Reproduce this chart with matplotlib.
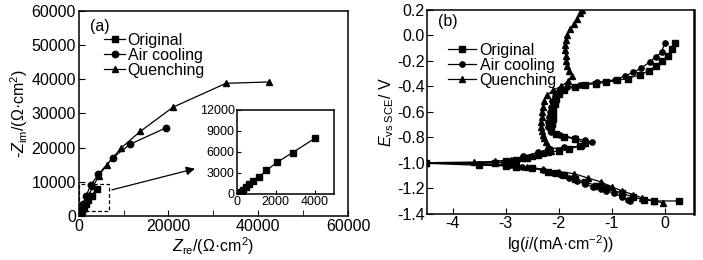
import matplotlib
matplotlib.use("Agg")
import matplotlib.pyplot as plt
from matplotlib.patches import Rectangle

plt.rcParams['font.family'] = ['Liberation Sans', 'DejaVu Sans']
plt.rcParams['mathtext.fontset'] = 'custom'
plt.rcParams['mathtext.rm'] = 'Liberation Sans'
plt.rcParams['mathtext.it'] = 'Liberation Sans:italic'
plt.rcParams['font.size'] = 11
plt.rcParams['axes.linewidth'] = 1.1

# (a) Nyquist data
orig_zre = [0, 190, 300, 460, 630, 810, 1130, 1520, 2060, 2870, 4035]
orig_zim = [0, 280, 610, 1000, 1420, 1800, 2370, 3360, 4500, 5920, 7970]
air_zre = [0, 400, 1000, 1600, 2700, 4400, 7600, 11500, 19500]
air_zim = [0, 1500, 3500, 5800, 9000, 12200, 17000, 21000, 25800]
qu_zre = [0, 500, 1200, 2200, 3200, 4500, 6200, 9400, 13700, 21000, 32800, 42500]
qu_zim = [0, 1500, 3500, 6000, 8600, 11800, 14800, 19800, 24700, 31800, 38800, 39200]

# (b) polarization data: lg(i), E
orig_lg = [0.27, -0.2, -0.4, -0.6, -0.8, -1.1, -1.3, -1.5, -1.7, -1.9, -2.05, -2.2, -2.5,
           -2.8, -3.0, -3.5, -4.5,
           -3.2, -3.0, -2.8, -2.6, -2.4, -2.2, -2.0, -1.8, -1.6, -1.5,
           -1.7, -1.9, -2.05, -2.15, -2.12, -2.10, -2.10, -2.10, -2.08, -2.05, -2.0, -1.9,
           -1.7, -1.5, -1.3, -1.1, -0.9, -0.7, -0.47, -0.3, -0.16, -0.05, 0.06, 0.13, 0.19]
orig_e = [-1.30, -1.30, -1.29, -1.27, -1.24, -1.20, -1.18, -1.15, -1.13, -1.10, -1.08, -1.07, -1.04,
          -1.03, -1.025, -1.02, -1.005,
          -1.00, -0.99, -0.975, -0.96, -0.94, -0.92, -0.905, -0.89, -0.87, -0.845,
          -0.815, -0.795, -0.775, -0.74, -0.70, -0.66, -0.62, -0.58, -0.54, -0.50, -0.46, -0.43,
          -0.405, -0.39, -0.38, -0.37, -0.355, -0.34, -0.31, -0.28, -0.24, -0.20, -0.16, -0.11, -0.06]
air_lg = [-0.65, -0.7, -0.8, -0.95, -1.1, -1.2, -1.35, -1.5, -1.65, -1.8, -1.95, -2.1, -2.3, -2.5,
          -2.7, -2.9, -3.5, -4.5,
          -3.04, -2.85, -2.67, -2.4, -2.16, -1.9, -1.57, -1.38,
          -1.5, -1.7, -1.97, -2.15, -2.20, -2.20, -2.19, -2.17, -2.15, -2.12, -2.08, -2.0,
          -1.85, -1.6, -1.27, -0.93, -0.75, -0.59, -0.45, -0.28, -0.17, -0.06, 0.0]
air_e = [-1.30, -1.29, -1.27, -1.24, -1.22, -1.21, -1.19, -1.17, -1.14, -1.12, -1.10, -1.08, -1.06, -1.04,
         -1.03, -1.02, -1.01, -1.0,
         -1.0, -0.975, -0.95, -0.92, -0.89, -0.88, -0.87, -0.84,
         -0.825, -0.81, -0.78, -0.76, -0.72, -0.68, -0.64, -0.60, -0.56, -0.52, -0.48, -0.44,
         -0.41, -0.39, -0.368, -0.35, -0.32, -0.29, -0.26, -0.21, -0.17, -0.135, -0.06]
qu_lg = [-0.03, -0.2, -0.43, -0.6, -0.81, -1.0, -1.21, -1.45, -1.71, -2.0, -2.3, -2.6, -3.0,
         -3.5, -4.5,
         -3.6, -3.2, -2.9, -2.7, -2.5, -2.3, -2.15, -2.2, -2.25, -2.28, -2.30, -2.32, -2.33,
         -2.33, -2.32, -2.32, -2.30, -2.28, -2.22, -2.1, -1.95, -1.82, -1.75, -1.80, -1.84,
         -1.86, -1.87, -1.88, -1.88, -1.87, -1.84, -1.78, -1.72, -1.66, -1.60, -1.56]
qu_e = [-1.315, -1.30, -1.276, -1.25, -1.22, -1.19, -1.15, -1.12, -1.086, -1.07, -1.05, -1.035, -1.02,
        -1.01, -1.0,
        -0.995, -0.99, -0.975, -0.96, -0.945, -0.925, -0.905, -0.87, -0.84, -0.81, -0.78, -0.75, -0.72,
        -0.68, -0.64, -0.60, -0.56, -0.52, -0.47, -0.43, -0.40, -0.36, -0.32, -0.28, -0.24,
        -0.20, -0.16, -0.12, -0.08, -0.04, 0.0, 0.05, 0.09, 0.13, 0.17, 0.20]

labels = ['Original', 'Air cooling', 'Quenching']
markers = ['s', 'o', '^']

fig = plt.figure(figsize=(7.03, 2.6), dpi=100)
axa = fig.add_axes([0.112, 0.170, 0.383, 0.788])
axb = fig.add_axes([0.608, 0.178, 0.379, 0.785])

kw = dict(color='black', lw=0.9, markersize=4.6)
for zr, zi, m, lab in zip([orig_zre, air_zre, qu_zre], [orig_zim, air_zim, qu_zim], markers, labels):
    axa.plot(zr, zi, marker=m, label=lab, **kw)
axa.set_xlim(0, 60000)
axa.set_ylim(0, 60000)
axa.set_xticks([0, 20000, 40000, 60000])
axa.set_xticks([10000, 30000, 50000], minor=True)
axa.set_yticks(range(0, 60001, 10000))
axa.tick_params(which='both', direction='in', labelsize=11.5, length=4, pad=2)
axa.set_xlabel(r'$Z_{\rm re}$/(Ω·cm$^2$)', fontsize=11.5, labelpad=1)
axa.set_ylabel(r'-$Z_{\rm im}$/(Ω·cm$^2$)', fontsize=11.5, labelpad=1)
axa.text(0.04, 0.96, '(a)', transform=axa.transAxes, fontsize=11.5, va='top')
axa.legend(loc='upper left', bbox_to_anchor=(0.06, 0.94), frameon=False, handlelength=1.3,
           handletextpad=0.15, labelspacing=0.0, borderpad=0.1, fontsize=11.5)
axa.add_patch(Rectangle((0, 1500), 6800, 7900, fill=False, ls=(0, (3, 2)), lw=0.9, color='black'))
axa.annotate('', xy=(26500, 14000), xytext=(6800, 7400),
             arrowprops=dict(arrowstyle='-|>', color='black', lw=0.9, mutation_scale=13))

ins = fig.add_axes([0.337, 0.254, 0.138, 0.323])
ins.plot(orig_zre, orig_zim, marker='s', color='black', lw=0.9, markersize=4.2)
ins.set_xlim(0, 5000)
ins.set_ylim(0, 12000)
ins.set_xticks([0, 2000, 4000])
ins.set_yticks([0, 3000, 6000, 9000, 12000])
ins.tick_params(direction='in', labelsize=9, length=3, pad=1.5)

for lg, e, m, lab in zip([orig_lg, air_lg, qu_lg], [orig_e, air_e, qu_e], markers, labels):
    axb.plot(lg, e, marker=m, label=lab, color='black', lw=0.9, markersize=3.8)
axb.set_xlim(-4.48, 0.55)
axb.set_ylim(-1.4, 0.2)
axb.set_xticks([-4, -3, -2, -1, 0])
axb.set_yticks([-1.4, -1.2, -1.0, -0.8, -0.6, -0.4, -0.2, 0.0, 0.2])
axb.set_yticklabels(['-1.4', '-1.2', '-1.0', '-0.8', '-0.6', '-0.4', '-0.2', '0.0', '0.2'])
axb.set_xticklabels(['-4', '-3', '-2', '-1', '0'])
axb.tick_params(direction='in', labelsize=11.5, length=4, pad=2)
axb.set_xlabel(r'lg($i$/(mA·cm$^{-2}$))', fontsize=11.5, labelpad=1)
axb.set_ylabel(r'$E_{\rm vs\ SCE}$/ V', fontsize=11.5, labelpad=1)
axb.text(0.04, 0.98, '(b)', transform=axb.transAxes, fontsize=11.5, va='top')
axb.legend(loc='upper left', bbox_to_anchor=(0.04, 0.885), frameon=False, handlelength=1.8,
           handletextpad=0.2, labelspacing=0.0, borderpad=0.1, fontsize=11.5)
axb.spines['right'].set_linewidth(1.8)

fig.savefig('out.png', dpi=100)
